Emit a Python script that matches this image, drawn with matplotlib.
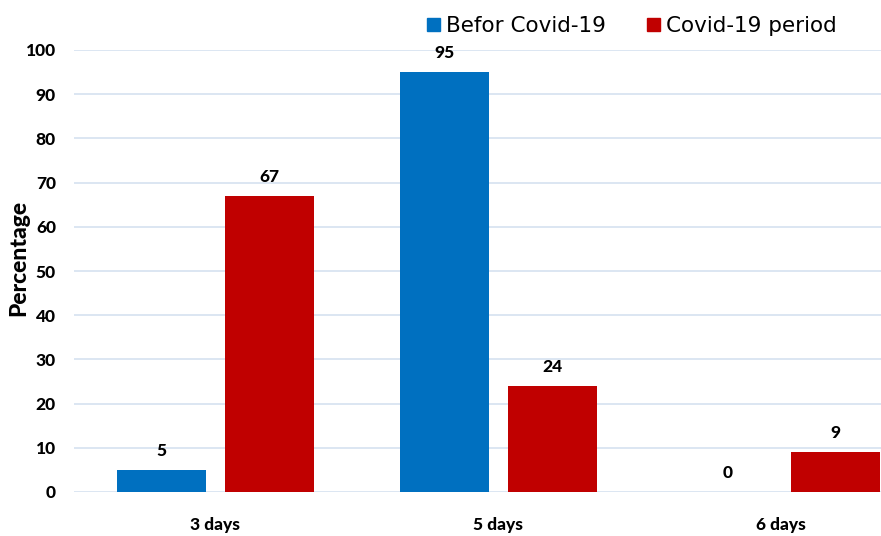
import numpy as np
import matplotlib.pyplot as plt
from matplotlib.patches import Patch

# Data
categories = ['3 days', '5 days', '6 days']
before_covid = [5, 95, 0]
covid_period = [67, 24, 9]
series_names = ['Befor Covid-19', 'Covid-19 period']
yticks = [0, 10, 20, 30, 40, 50, 60, 70, 80, 90, 100]

blue = '#0070C0'
red = '#C00000'
grid_col = '#D5E1F0'
fw = 900

fig = plt.figure(figsize=(8.81, 5.36), dpi=100)
ax = fig.add_axes([74/881, 44/536, 807/881, 442/536])

x = np.arange(len(categories))
w = 0.314
off = 0.191
b1 = ax.bar(x - off, before_covid, w, color=blue, zorder=3)
b2 = ax.bar(x + off, covid_period, w, color=red, zorder=3)

# Value labels
for bars, vals in [(b1, before_covid), (b2, covid_period)]:
    for rect, v in zip(bars, vals):
        ax.annotate(str(v), (rect.get_x() + rect.get_width()/2, v),
                    xytext=(0, 8), textcoords='offset points',
                    ha='center', va='bottom', fontsize=12.5,
                    fontweight=fw, family='Lato')

ax.set_xlim(-0.5, 2.352)
ax.set_ylim(0, 100)
ax.set_yticks(yticks)
ax.set_xticks(x)
ax.set_xticklabels(categories)
ax.yaxis.grid(True, color=grid_col, linewidth=1.2, zorder=0)
ax.set_axisbelow(True)
for s in ax.spines.values():
    s.set_visible(False)
ax.tick_params(axis='both', length=0, labelsize=12.5)
ax.tick_params(axis='y', pad=13)
ax.tick_params(axis='x', pad=18)
for lab in ax.get_xticklabels() + ax.get_yticklabels():
    lab.set_fontweight(fw)
    lab.set_family('Lato')
ax.set_ylabel('Percentage', fontsize=16.5, fontweight=fw, family='Lato')
ax.yaxis.set_label_coords(-0.055, 0.53)

# Legend
handles = [Patch(color=blue), Patch(color=red)]
fig.legend(handles, series_names, loc='center', bbox_to_anchor=(632/881, 1 - 26/536),
           ncol=2, frameon=False, handlelength=0.6, handleheight=0.6,
           handletextpad=0.3, columnspacing=1.9,
           prop={'family': 'DejaVu Sans', 'size': 15.5})

fig.savefig('out.png', dpi=100)
